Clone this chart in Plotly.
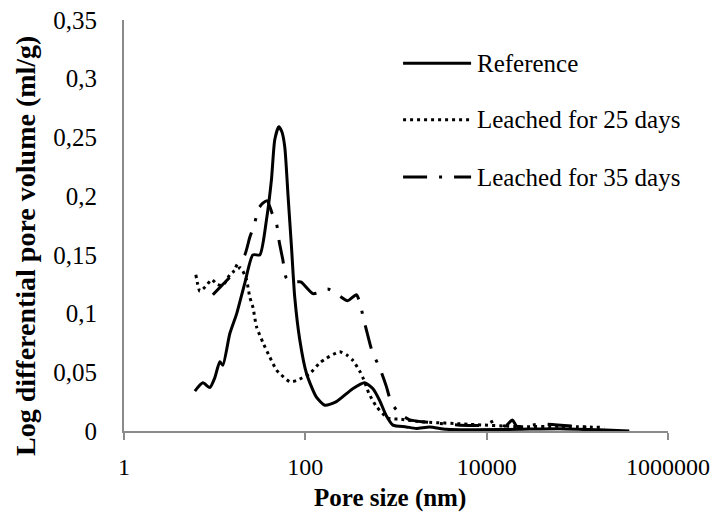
import plotly.graph_objects as go

# Pore size distribution (mercury intrusion), log differential intrusion
series_names = ["Reference", "Leached for 25 days", "Leached for 35 days"]

pore_ref = [6.05, 7.41, 8.85, 10.0, 11.4, 12.3, 14.7, 17.5, 21.5, 26.4, 31.5, 37.3, 42.3,
            46.0, 50.9, 55.0, 59.3, 64.5, 70.3, 76.4, 86.7, 103, 132, 164, 220, 333, 451,
            557, 660, 782, 925, 1298, 1674, 2345, 3580, 7660, 22960, 63400, 174700, 374000]
vol_ref = [0.034, 0.041, 0.037, 0.045, 0.059, 0.056, 0.083, 0.100, 0.126, 0.150, 0.150, 0.180,
           0.214, 0.248, 0.259, 0.255, 0.242, 0.200, 0.157, 0.114, 0.078, 0.049, 0.029, 0.022,
           0.025, 0.036, 0.041, 0.036, 0.026, 0.013, 0.005, 0.0035, 0.0022, 0.0035, 0.0014,
           0.001, 0.0015, 0.002, 0.001, 0.0]

pore_25 = [6.2, 6.5, 6.87, 8.15, 9.25, 10.6, 12.3, 14.7, 16.3, 19.3, 22.4, 24.4, 26.5, 28.9,
           34.2, 40.5, 48.0, 52.2, 67.3, 79.8, 112, 144, 171, 239, 284, 335, 404, 440, 503,
           607, 815, 1143, 1820, 6470, 22960, 63400, 198000]
vol_25 = [0.133, 0.125, 0.119, 0.124, 0.129, 0.125, 0.124, 0.133, 0.136, 0.139, 0.129, 0.114,
          0.105, 0.089, 0.075, 0.063, 0.052, 0.049, 0.042, 0.043, 0.049, 0.058, 0.062, 0.0675,
          0.065, 0.060, 0.050, 0.044, 0.032, 0.021, 0.011, 0.010, 0.008, 0.0057, 0.0037,
          0.004, 0.003]

pore_35 = [9.55, 12.0, 15.5, 18.0, 21.5, 24.4, 27.7, 30.2, 34.0, 38.0, 42.7, 48.0, 51.3, 56.4,
           61.9, 72.7, 89.0, 121, 144, 176, 220, 293, 365, 397, 440, 483, 535, 689, 782, 888,
           1096, 1413, 2065, 3020, 5013, 9460, 12820, 15900, 19230, 21500, 40000, 135000]
vol_35 = [0.116, 0.124, 0.133, 0.143, 0.150, 0.165, 0.177, 0.189, 0.194, 0.196, 0.186, 0.177,
          0.162, 0.146, 0.130, 0.127, 0.127, 0.117, 0.118, 0.121, 0.117, 0.111, 0.116, 0.110,
          0.095, 0.083, 0.070, 0.050, 0.038, 0.024, 0.015, 0.0094, 0.0077, 0.0065, 0.005,
          0.005, 0.0094, 0.004, 0.0094, 0.004, 0.006, 0.003]

x_tick_vals = [1, 100, 10000, 1000000]
x_tick_text = ["1", "100", "10000", "1000000"]
y_tick_vals = [0, 0.05, 0.1, 0.15, 0.2, 0.25, 0.3, 0.35]
y_tick_text = ["0", "0,05", "0,1", "0,15", "0,2", "0,25", "0,3", "0,35"]

x_title = "<b>Pore size (nm)</b>"
y_title = "<b>Log differential pore volume (ml/g)</b>"

FONT = "Liberation Serif"
AXIS_GREY = "#8a8a8a"
styles = [
    dict(width=3, dash="solid"),
    dict(width=3, dash="3px,4px"),
    dict(width=3, dash="24px,12px,3px,12px"),
]

fig = go.Figure()
for name, xs, ys, st in zip(series_names, [pore_ref, pore_25, pore_35],
                            [vol_ref, vol_25, vol_35], styles):
    fig.add_trace(go.Scatter(
        x=xs, y=ys, name=name, mode="lines", showlegend=False,
        line=dict(color="black", width=st["width"], dash=st["dash"],
                  shape="spline", smoothing=0.6),
    ))

# hand-built legend block at the upper right of the plot area
legend_x0, legend_x1, text_x = 0.513, 0.638, 0.646
legend_rows = [0.895, 0.757, 0.618]
for name, st, yy in zip(series_names, styles, legend_rows):
    fig.add_shape(type="line", xref="paper", yref="paper",
                  x0=legend_x0, x1=legend_x1, y0=yy, y1=yy,
                  line=dict(color="black", width=st["width"], dash=st["dash"]))
    fig.add_annotation(xref="paper", yref="paper", x=text_x, y=yy, text=name,
                       showarrow=False, xanchor="left", yanchor="middle",
                       font=dict(family=FONT, size=25, color="black"))

# axis titles
fig.add_annotation(xref="paper", yref="paper", x=0.489, y=-0.163, text=x_title,
                   showarrow=False, xanchor="center", yanchor="middle",
                   font=dict(family=FONT, size=25, color="black"))
fig.add_annotation(xref="paper", yref="paper", x=-0.182, y=0.45, text=y_title,
                   textangle=-90, showarrow=False, xanchor="center", yanchor="middle",
                   font=dict(family=FONT, size=28, color="black"))

fig.update_layout(
    width=714, height=513,
    margin=dict(l=124, r=46, t=20, b=82, autoexpand=False),
    paper_bgcolor="white", plot_bgcolor="white",
    font=dict(family=FONT, size=24, color="black"),
    showlegend=False,
    xaxis=dict(
        type="log", range=[0, 6], tickvals=x_tick_vals, ticktext=x_tick_text,
        showgrid=False, zeroline=False, showline=True, linecolor=AXIS_GREY, linewidth=2,
        ticks="outside", ticklen=7, tickwidth=2, tickcolor=AXIS_GREY,
        ticklabelstandoff=6, automargin=False, tickfont=dict(size=24),
    ),
    # second copy of the x axis carries the inner half of the crossing tick marks
    xaxis2=dict(
        type="log", range=[0, 6], overlaying="x", matches="x", tickvals=x_tick_vals,
        showticklabels=False, showgrid=False, zeroline=False, showline=False,
        ticks="inside", ticklen=7, tickwidth=2, tickcolor=AXIS_GREY,
    ),
    yaxis=dict(
        range=[0, 0.35], tickvals=y_tick_vals, ticktext=y_tick_text,
        showgrid=False, zeroline=False, showline=True, linecolor=AXIS_GREY, linewidth=2,
        ticks="", ticklabelstandoff=20, automargin=False, tickfont=dict(size=25),
    ),
    # short stub where the value axis meets the baseline
    yaxis2=dict(
        range=[0, 0.35], overlaying="y", matches="y", tickvals=[0],
        showticklabels=False, showgrid=False, zeroline=False, showline=False,
        ticks="outside", ticklen=5, tickwidth=2, tickcolor=AXIS_GREY,
    ),
)

fig.write_html("out.html")
